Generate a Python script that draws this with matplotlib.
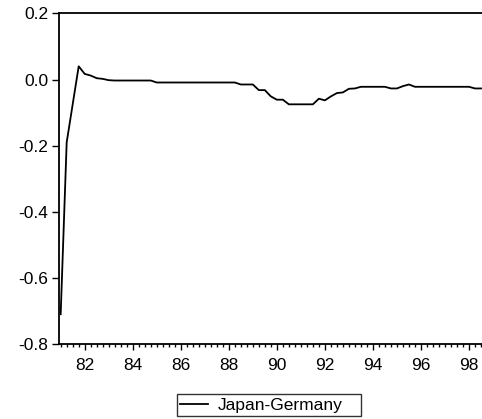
import matplotlib
matplotlib.use("Agg")
import matplotlib.pyplot as plt
import numpy as np
from matplotlib.ticker import MultipleLocator, FixedLocator

plt.rcParams['font.family'] = ['Liberation Sans', 'DejaVu Sans']
plt.rcParams['axes.unicode_minus'] = False

# quarterly series, starting 1981Q1
start_year = 1981
series_name = 'Japan-Germany'
values = [
    -0.71, -0.19, -0.075, 0.040, 0.017, 0.012, 0.004, 0.002, -0.002, -0.003,
    -0.003, -0.003, -0.003, -0.003, -0.003, -0.003, -0.009, -0.009, -0.009, -0.009,
    -0.009, -0.009, -0.009, -0.009, -0.009, -0.009, -0.009, -0.009, -0.009, -0.009,
    -0.015, -0.015, -0.015, -0.032, -0.032, -0.051, -0.061, -0.061, -0.075, -0.075,
    -0.075, -0.075, -0.075, -0.058, -0.063, -0.051, -0.041, -0.039, -0.028, -0.027,
    -0.022, -0.022, -0.022, -0.022, -0.022, -0.027, -0.027, -0.020, -0.015, -0.022,
    -0.022, -0.022, -0.022, -0.022, -0.022, -0.022, -0.022, -0.022, -0.022, -0.027,
    -0.027,
]
year_ticks = list(range(1982, 1999, 2))
year_labels = [f"{y % 100:02d}" for y in year_ticks]
y_ticks = [-0.8, -0.6, -0.4, -0.2, 0.0, 0.2]

t = start_year + np.arange(len(values)) / 4.0

fig = plt.figure(figsize=(4.82, 4.19), dpi=100)
ax = fig.add_axes([0.1224, 0.179, 0.888, 0.789])
line, = ax.plot(t, values, color='black', lw=1.3)

ax.set_xlim(1980.93, 1998.75)
ax.set_ylim(-0.8, 0.2)

ax.xaxis.set_major_locator(FixedLocator(year_ticks))
ax.set_xticklabels(year_labels)
ax.xaxis.set_minor_locator(MultipleLocator(0.25))
ax.set_yticks(y_ticks)
ax.set_yticklabels([f"{v:.1f}" for v in y_ticks])

for s in ax.spines.values():
    s.set_linewidth(1.3)
ax.tick_params(axis='both', which='major', labelsize=12.5, width=1.0, colors='black')
ax.tick_params(axis='y', length=5, pad=2.5)
ax.tick_params(axis='x', which='major', length=4.5, pad=5.5)
ax.tick_params(axis='x', which='minor', length=2.3, width=1.0)

leg = fig.legend([line], [series_name], loc='center', mode='expand',
                 bbox_to_anchor=(177 / 482, 1 - 417 / 419, 184 / 482, 24 / 419),
                 frameon=True, fancybox=False,
                 edgecolor='black', fontsize=12.5, handlelength=1.6,
                 borderpad=0.2, handletextpad=0.55, borderaxespad=0)
leg.get_frame().set_linewidth(1.0)

fig.savefig('out.png', dpi=100)
